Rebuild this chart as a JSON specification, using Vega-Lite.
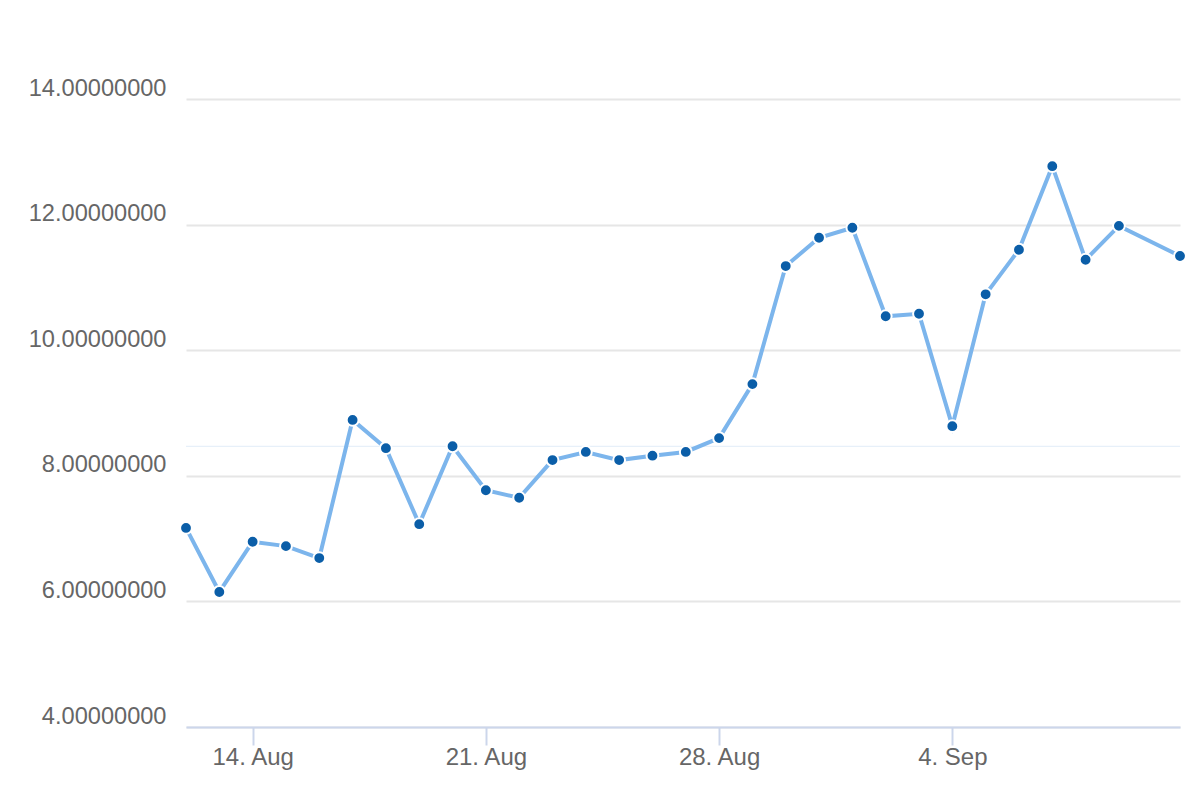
{
  "$schema": "https://vega.github.io/schema/vega-lite/v6.json",
  "width": 994,
  "height": 628,
  "autosize": {"type": "none"},
  "padding": {"left": 186, "top": 99, "right": 20, "bottom": 73},
  "background": "#ffffff",
  "config": {"view": {"stroke": null}, "font": "Liberation Sans"},
  "datasets": {
    "series": [
      {"date": "2023-08-12T00:00:00", "value": 7.17},
      {"date": "2023-08-13T00:00:00", "value": 6.15},
      {"date": "2023-08-14T00:00:00", "value": 6.95},
      {"date": "2023-08-15T00:00:00", "value": 6.88},
      {"date": "2023-08-16T00:00:00", "value": 6.69},
      {"date": "2023-08-17T00:00:00", "value": 8.89},
      {"date": "2023-08-18T00:00:00", "value": 8.44},
      {"date": "2023-08-19T00:00:00", "value": 7.23},
      {"date": "2023-08-20T00:00:00", "value": 8.47},
      {"date": "2023-08-21T00:00:00", "value": 7.77},
      {"date": "2023-08-22T00:00:00", "value": 7.65},
      {"date": "2023-08-23T00:00:00", "value": 8.25},
      {"date": "2023-08-24T00:00:00", "value": 8.38},
      {"date": "2023-08-25T00:00:00", "value": 8.25},
      {"date": "2023-08-26T00:00:00", "value": 8.32},
      {"date": "2023-08-27T00:00:00", "value": 8.38},
      {"date": "2023-08-28T00:00:00", "value": 8.60},
      {"date": "2023-08-29T00:00:00", "value": 9.46},
      {"date": "2023-08-30T00:00:00", "value": 11.34},
      {"date": "2023-08-31T00:00:00", "value": 11.79},
      {"date": "2023-09-01T00:00:00", "value": 11.95},
      {"date": "2023-09-02T00:00:00", "value": 10.54},
      {"date": "2023-09-03T00:00:00", "value": 10.58},
      {"date": "2023-09-04T00:00:00", "value": 8.79},
      {"date": "2023-09-05T00:00:00", "value": 10.89},
      {"date": "2023-09-06T00:00:00", "value": 11.60},
      {"date": "2023-09-07T00:00:00", "value": 12.93},
      {"date": "2023-09-08T00:00:00", "value": 11.44},
      {"date": "2023-09-09T00:00:00", "value": 11.98},
      {"date": "2023-09-10T20:00:00", "value": 11.50}
    ],
    "ref": [{"value": 8.47}]
  },
  "layer": [
    {
      "data": {"name": "ref"},
      "mark": {"type": "rule", "color": "#e1ecf8", "strokeWidth": 1},
      "encoding": {"y": {"field": "value", "type": "quantitative", "scale": {"domain": [4, 14], "nice": false, "zero": false}}}
    },
    {
      "data": {"name": "series"},
      "mark": {"type": "line", "color": "#7cb5ec", "strokeWidth": 4, "clip": false},
      "encoding": {
        "x": {
          "field": "date",
          "type": "temporal",
          "title": null,
          "scale": {"domain": ["2023-08-12T00:00:00", "2023-09-10T20:00:00"], "nice": false},
          "axis": {
            "values": [
              {"year": 2023, "month": 8, "date": 14},
              {"year": 2023, "month": 8, "date": 21},
              {"year": 2023, "month": 8, "date": 28},
              {"year": 2023, "month": 9, "date": 4}
            ],
            "format": "%-d. %b",
            "grid": false,
            "domainColor": "#ccd6eb",
            "domainWidth": 2,
            "tickColor": "#ccd6eb",
            "tickWidth": 2,
            "tickSize": 18,
            "labelPadding": 0,
            "labelFontSize": 24,
            "labelColor": "#666666",
            "labelFlush": false
          }
        },
        "y": {
          "field": "value",
          "type": "quantitative",
          "title": null,
          "scale": {"domain": [4, 14], "nice": false, "zero": false},
          "axis": {
            "values": [4, 6, 8, 10, 12, 14],
            "format": ".8f",
            "domain": false,
            "ticks": false,
            "grid": true,
            "gridColor": "#e6e6e6",
            "gridWidth": 2,
            "labelPadding": 20,
            "labelFontSize": 23.6,
            "labelColor": "#666666",
            "labelBaseline": "alphabetic",
            "labelOffset": -4
          }
        }
      }
    },
    {
      "data": {"name": "series"},
      "mark": {"type": "point", "filled": true, "fill": "#0b5ea8", "stroke": "#ffffff", "strokeWidth": 2, "size": 140, "opacity": 1, "clip": false},
      "encoding": {
        "x": {"field": "date", "type": "temporal"},
        "y": {"field": "value", "type": "quantitative"}
      }
    }
  ]
}
